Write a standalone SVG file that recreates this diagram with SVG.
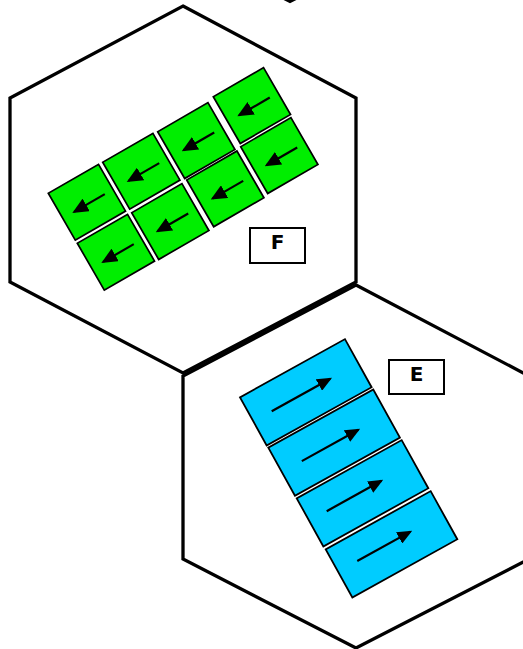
<svg xmlns="http://www.w3.org/2000/svg" width="523" height="649" viewBox="0 0 523 649">
<style>
.hex{fill:none;stroke:#000;stroke-width:3.3;stroke-linejoin:miter}
.g{fill:#00ee00;stroke:#000;stroke-width:1.7}
.b{fill:#00ccff;stroke:#000;stroke-width:1.8}
.ar{stroke:#000;stroke-width:2.2;fill:none}
.lb{fill:#fff;stroke:#000;stroke-width:2}
.lt{font-family:"DejaVu Sans","Liberation Sans",sans-serif;font-weight:bold;font-size:20px;text-anchor:middle;fill:#000}
</style>
<defs>
<marker id="ah" viewBox="0 0 15 13" refX="13" refY="6.5" markerWidth="15" markerHeight="13" markerUnits="userSpaceOnUse" orient="auto">
<path d="M0,0 L15,6.5 L0,13 z" fill="#000"/>
</marker>
<marker id="ahg" viewBox="0 0 16 14.5" refX="14" refY="7.25" markerWidth="16" markerHeight="14.5" markerUnits="userSpaceOnUse" orient="auto">
<path d="M0,0 L16,7.25 L0,14.5 z" fill="#000"/>
</marker>
</defs>
<rect width="523" height="649" fill="#fff"/>
<g id="hexTop"><polyline class="hex" points="270,-9 290,1.5 310,-9"/></g>
<g id="hexF"><polygon class="hex" points="183,6 356,98 356,282 183,373 10,282 10,98"/></g>
<g id="hexE"><polygon class="hex" points="356,285 529,376 529,559 356,648 183,559 183,376"/></g>

<g id="F1" transform="translate(48.3,193.3) rotate(-30)"><rect class="g" width="58" height="54"/><line class="ar" x1="48.5" y1="29" x2="13" y2="29" marker-end="url(#ahg)"/></g>
<g id="F2" transform="translate(102.7,162.3) rotate(-30)"><rect class="g" width="58" height="54"/><line class="ar" x1="48.5" y1="29" x2="13" y2="29" marker-end="url(#ahg)"/></g>
<g id="F3" transform="translate(157.7,131.7) rotate(-30)"><rect class="g" width="58" height="54"/><line class="ar" x1="48.5" y1="29" x2="13" y2="29" marker-end="url(#ahg)"/></g>
<g id="F4" transform="translate(213.3,96.7) rotate(-30)"><rect class="g" width="58" height="54"/><line class="ar" x1="48.5" y1="29" x2="13" y2="29" marker-end="url(#ahg)"/></g>
<g id="F5" transform="translate(77.3,243.3) rotate(-30)"><rect class="g" width="58" height="54"/><line class="ar" x1="48.5" y1="29" x2="13" y2="29" marker-end="url(#ahg)"/></g>
<g id="F6" transform="translate(131.7,212.7) rotate(-30)"><rect class="g" width="58" height="54"/><line class="ar" x1="48.5" y1="29" x2="13" y2="29" marker-end="url(#ahg)"/></g>
<g id="F7" transform="translate(186.7,180) rotate(-30)"><rect class="g" width="58" height="54"/><line class="ar" x1="48.5" y1="29" x2="13" y2="29" marker-end="url(#ahg)"/></g>
<g id="F8" transform="translate(240.7,146.7) rotate(-30)"><rect class="g" width="58" height="54"/><line class="ar" x1="48.5" y1="29" x2="13" y2="29" marker-end="url(#ahg)"/></g>

<g id="E1" transform="translate(240,397.3) rotate(-29)"><rect class="b" width="120" height="55"/><line class="ar" x1="21" y1="27.5" x2="88" y2="27.5" marker-end="url(#ah)"/></g>
<g id="E2" transform="translate(268.3,447.7) rotate(-29)"><rect class="b" width="120" height="55"/><line class="ar" x1="22.8" y1="28" x2="87.5" y2="28" marker-end="url(#ah)"/></g>
<g id="E3" transform="translate(296.7,498.3) rotate(-29)"><rect class="b" width="120" height="55"/><line class="ar" x1="20" y1="25.8" x2="82.6" y2="25.8" marker-end="url(#ah)"/></g>
<g id="E4" transform="translate(325.7,549.3) rotate(-29)"><rect class="b" width="120" height="55"/><line class="ar" x1="21.9" y1="25.6" x2="82.7" y2="25.6" marker-end="url(#ah)"/></g>

<g id="labelF"><rect class="lb" x="250" y="228" width="55" height="35"/><text class="lt" x="277.5" y="249">F</text></g>
<g id="labelE"><rect class="lb" x="389" y="360" width="55" height="34"/><text class="lt" x="416.5" y="381">E</text></g>
<g id="connectors"/>
</svg>
